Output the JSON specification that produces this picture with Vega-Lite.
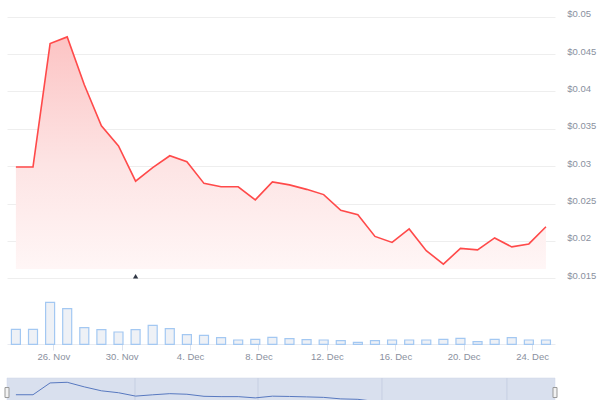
{
  "$schema": "https://vega.github.io/schema/vega-lite/v6.json",
  "width": 548,
  "height": 400,
  "autosize": {"type": "none"},
  "padding": {"left": 7, "top": 0, "right": 45, "bottom": 0},
  "background": "white",
  "config": {"view": {"stroke": null}, "font": "Liberation Sans", "scale": {"continuousPadding": 0}},
  "datasets": {
    "daily": [
      {"date": "2023-11-23T19:30", "price": 0.0299, "volume": 15},
      {"date": "2023-11-24T19:30", "price": 0.0299, "volume": 15},
      {"date": "2023-11-25T19:30", "price": 0.0464, "volume": 42},
      {"date": "2023-11-26T19:30", "price": 0.0473, "volume": 35.7},
      {"date": "2023-11-27T19:30", "price": 0.0409, "volume": 16.7},
      {"date": "2023-11-28T19:30", "price": 0.0354, "volume": 14.7},
      {"date": "2023-11-29T19:30", "price": 0.0327, "volume": 12.3},
      {"date": "2023-11-30T19:30", "price": 0.0280, "volume": 14.7},
      {"date": "2023-12-01T19:30", "price": 0.0298, "volume": 19},
      {"date": "2023-12-02T19:30", "price": 0.0314, "volume": 15.7},
      {"date": "2023-12-03T19:30", "price": 0.0306, "volume": 9.7},
      {"date": "2023-12-04T19:30", "price": 0.0277, "volume": 9},
      {"date": "2023-12-05T19:30", "price": 0.02725, "volume": 6.7},
      {"date": "2023-12-06T19:30", "price": 0.02725, "volume": 4.3},
      {"date": "2023-12-07T19:30", "price": 0.0255, "volume": 5},
      {"date": "2023-12-08T19:30", "price": 0.0279, "volume": 7},
      {"date": "2023-12-09T19:30", "price": 0.0275, "volume": 5.7},
      {"date": "2023-12-10T19:30", "price": 0.0269, "volume": 4.7},
      {"date": "2023-12-11T19:30", "price": 0.0262, "volume": 4.3},
      {"date": "2023-12-12T19:30", "price": 0.0241, "volume": 3.7},
      {"date": "2023-12-13T19:30", "price": 0.0235, "volume": 2},
      {"date": "2023-12-14T19:30", "price": 0.0206, "volume": 3.7},
      {"date": "2023-12-15T19:30", "price": 0.0198, "volume": 4.3},
      {"date": "2023-12-16T19:30", "price": 0.0216, "volume": 4.3},
      {"date": "2023-12-17T19:30", "price": 0.0187, "volume": 4.3},
      {"date": "2023-12-18T19:30", "price": 0.0169, "volume": 5},
      {"date": "2023-12-19T19:30", "price": 0.0190, "volume": 6},
      {"date": "2023-12-20T19:30", "price": 0.0188, "volume": 2.7},
      {"date": "2023-12-21T19:30", "price": 0.0204, "volume": 5},
      {"date": "2023-12-22T19:30", "price": 0.0192, "volume": 6.7},
      {"date": "2023-12-23T19:30", "price": 0.0196, "volume": 4.3},
      {"date": "2023-12-24T19:30", "price": 0.0219, "volume": 4.3}
    ],
    "navgrid": [
      {"date": "2023-11-30T18:40"},
      {"date": "2023-12-07T23:20"},
      {"date": "2023-12-15T05:20"},
      {"date": "2023-12-22T12:45"}
    ],
    "navrange": [
      {"start": "2023-11-23T07:00", "end": "2023-12-25T08:12"}
    ],
    "handles": [
      {"date": "2023-11-23T07:00"},
      {"date": "2023-12-25T08:12"}
    ],
    "flags": [
      {"date": "2023-11-30T19:30", "price": 0.01527}
    ]
  },
  "resolve": {"scale": {"y": "independent"}, "axis": {"y": "independent"}},
  "layer": [
    {
      "layer": [
        {
          "data": {"name": "navrange"},
          "mark": {"type": "rect", "fill": "#d9e0ee", "stroke": "#cfd7e8", "strokeWidth": 0.5},
          "encoding": {
            "x": {"field": "start", "type": "temporal"},
            "x2": {"field": "end"},
            "y": {"datum": 0.0533, "type": "quantitative", "scale": {"domain": [0.015, 0.05], "range": [405.4, 380.35], "zero": false, "nice": false}, "axis": null},
            "y2": {"datum": 0.012}
          }
        },
        {
          "data": {"name": "navgrid"},
          "mark": {"type": "rule", "color": "#c6cfe2", "strokeWidth": 1},
          "encoding": {
            "x": {"field": "date", "type": "temporal"},
            "y": {"datum": 0.0533, "type": "quantitative"},
            "y2": {"datum": 0.012}
          }
        },
        {
          "data": {"name": "daily"},
          "mark": {"type": "line", "color": "#5879c0", "strokeWidth": 1},
          "encoding": {
            "x": {"field": "date", "type": "temporal"},
            "y": {"field": "price", "type": "quantitative"}
          }
        },
        {
          "data": {"name": "handles"},
          "mark": {"type": "point", "shape": "M-0.4,-1 L0.4,-1 L0.4,1 L-0.4,1 Z", "size": 100, "filled": true, "fill": "#f2f2f2", "stroke": "#999999", "strokeWidth": 1, "opacity": 1},
          "encoding": {
            "x": {"field": "date", "type": "temporal"},
            "y": {"datum": 0.033, "type": "quantitative"}
          }
        }
      ]
    },
    {
      "data": {"name": "daily"},
      "mark": {"type": "bar", "width": 9, "fill": "#eef1f6", "stroke": "#a3c8f2", "strokeWidth": 1.2},
      "encoding": {
        "x": {"field": "date", "type": "temporal"},
        "y": {"field": "volume", "type": "quantitative", "scale": {"domain": [0, 50], "range": [344.3, 294.3], "nice": false}, "axis": null}
      }
    },
    {
      "layer": [
        {
          "data": {"name": "daily"},
          "mark": {
            "type": "area",
            "color": {
              "gradient": "linear", "x1": 0, "y1": 0, "x2": 0, "y2": 1,
              "stops": [
                {"offset": 0, "color": "#fcc4c4"},
                {"offset": 0.55, "color": "#fde4e4"},
                {"offset": 1, "color": "#fff6f6"}
              ]
            }
          },
          "encoding": {
            "x": {
              "field": "date", "type": "temporal",
              "scale": {"domain": [{"year": 2023, "month": 11, "date": 23, "hours": 7}, {"year": 2023, "month": 12, "date": 25, "hours": 8, "minutes": 12}], "padding": 0},
              "axis": {
                "title": null, "orient": "bottom", "offset": -56, "format": "%-d. %b",
                "values": [
                  {"year": 2023, "month": 11, "date": 26},
                  {"year": 2023, "month": 11, "date": 30},
                  {"year": 2023, "month": 12, "date": 4},
                  {"year": 2023, "month": 12, "date": 8},
                  {"year": 2023, "month": 12, "date": 12},
                  {"year": 2023, "month": 12, "date": 16},
                  {"year": 2023, "month": 12, "date": 20},
                  {"year": 2023, "month": 12, "date": 24}
                ],
                "grid": false, "domainColor": "#e8ebf1", "tickColor": "#dde3ee", "tickSize": 6,
                "labelColor": "#8a909e", "labelFontSize": 9.5, "labelFont": "Liberation Sans", "labelPadding": 1
              }
            },
            "y": {
              "field": "price", "type": "quantitative",
              "scale": {"domain": [0.015, 0.05], "range": [278.3, 16.7], "zero": false, "nice": false},
              "axis": {
                "orient": "right", "title": null,
                "values": [0.015, 0.02, 0.025, 0.03, 0.035, 0.04, 0.045, 0.05],
                "labelExpr": "'$' + datum.value",
                "grid": true, "gridColor": "#eeeeee", "domain": false, "ticks": false,
                "labelPadding": 11.7, "labelOffset": -3, "labelColor": "#8a909e", "labelFontSize": 9.5, "labelFont": "Liberation Sans"
              }
            },
            "y2": {"datum": 0.01624}
          }
        },
        {
          "data": {"name": "daily"},
          "mark": {"type": "line", "color": "#ff4a4a", "strokeWidth": 1.6},
          "encoding": {
            "x": {"field": "date", "type": "temporal"},
            "y": {"field": "price", "type": "quantitative"}
          }
        },
        {
          "data": {"name": "flags"},
          "mark": {"type": "point", "shape": "triangle-up", "size": 28, "filled": true, "color": "#2f3644", "opacity": 1},
          "encoding": {
            "x": {"field": "date", "type": "temporal"},
            "y": {"field": "price", "type": "quantitative"}
          }
        }
      ]
    }
  ]
}
